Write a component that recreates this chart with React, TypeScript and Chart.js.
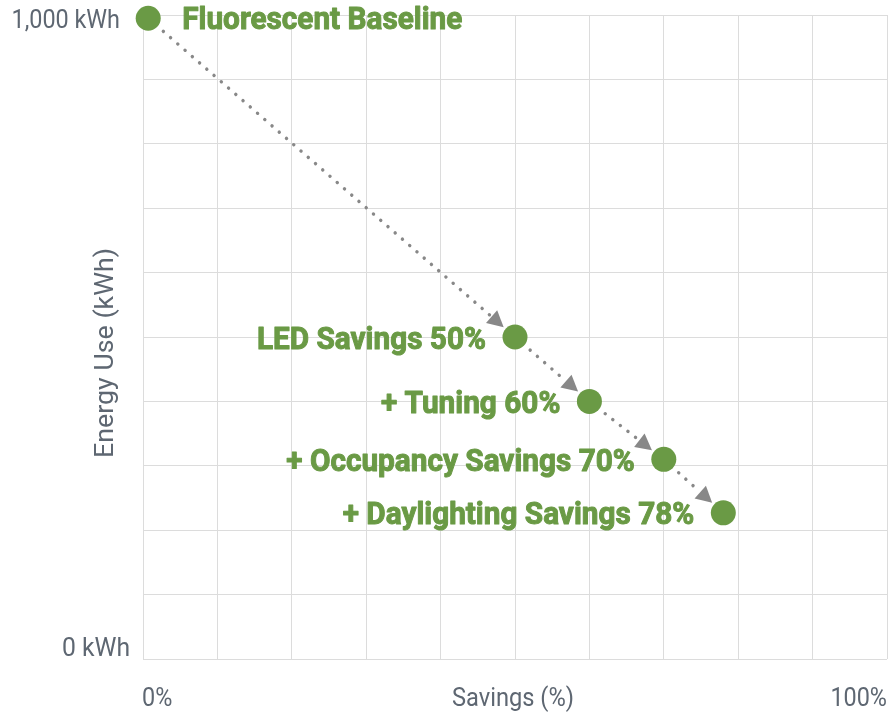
import React, { useEffect, useRef } from "react";
import { Chart, registerables } from "chart.js";

Chart.register(...registerables);

// ---- data ----
const stepLabels = [
  "Fluorescent Baseline",
  "LED Savings 50%",
  "+ Tuning 60%",
  "+ Occupancy Savings 70%",
  "+ Daylighting Savings 78%",
];
const savingsPct = [0.7, 50, 60, 70, 78];
const energyKWh = [995, 500, 400, 310, 227];

const yTickValues = [1000, 0];
const yTickLabels = ["1,000 kWh", "0 kWh"];
const xTickValues = [0, 100];
const xTickLabels = ["0%", "100%"];
const xTitle = "Savings (%)";
const yTitle = "Energy Use (kWh)";

// ---- styles ----
const GREEN = "#6a9a45";
const GRAY_TEXT = "#5e6772";
const GRID = "#dcdcdc";
const ARROW = "#888888";

function drawText(
  ctx: CanvasRenderingContext2D,
  text: string,
  x: number,
  y: number,
  font: string,
  color: string,
  align: CanvasTextAlign,
  scaleX = 1,
  stroke = 0
) {
  ctx.save();
  ctx.font = font;
  ctx.fillStyle = color;
  ctx.textBaseline = "alphabetic";
  const w = ctx.measureText(text).width * scaleX;
  let left = x;
  if (align === "right") left = x - w;
  else if (align === "center") left = x - w / 2;
  ctx.translate(left, y);
  ctx.scale(scaleX, 1);
  ctx.textAlign = "left";
  ctx.fillText(text, 0, 0);
  if (stroke > 0) {
    ctx.strokeStyle = color;
    ctx.lineWidth = stroke;
    ctx.lineJoin = "round";
    ctx.strokeText(text, 0, 0);
  }
  ctx.restore();
}

const arrowPlugin = {
  id: "arrows",
  beforeDatasetsDraw(chart: any) {
    const ctx: CanvasRenderingContext2D = chart.ctx;
    const pts = chart.getDatasetMeta(0).data;
    for (let i = 0; i < pts.length - 1; i++) {
      const a = pts[i];
      const b = pts[i + 1];
      const dx = b.x - a.x;
      const dy = b.y - a.y;
      const len = Math.hypot(dx, dy);
      const ux = dx / len;
      const uy = dy / len;
      const tipX = b.x - ux * 15;
      const tipY = b.y - uy * 15;
      const headLen = 16;
      const baseX = tipX - ux * headLen;
      const baseY = tipY - uy * headLen;
      const startX = a.x + ux * 20;
      const startY = a.y + uy * 20;
      ctx.save();
      ctx.strokeStyle = ARROW;
      ctx.lineWidth = 3.4;
      ctx.lineCap = "round";
      ctx.setLineDash([0.1, 9.5]);
      ctx.beginPath();
      ctx.moveTo(startX, startY);
      ctx.lineTo(baseX - ux * 2, baseY - uy * 2);
      ctx.stroke();
      ctx.setLineDash([]);
      ctx.fillStyle = ARROW;
      const hw = 8.5;
      ctx.beginPath();
      ctx.moveTo(tipX, tipY);
      ctx.lineTo(baseX - uy * hw, baseY + ux * hw);
      ctx.lineTo(baseX + uy * hw, baseY - ux * hw);
      ctx.closePath();
      ctx.fill();
      ctx.restore();
    }
  },
};

const labelPlugin = {
  id: "stepLabels",
  afterDatasetsDraw(chart: any) {
    const ctx: CanvasRenderingContext2D = chart.ctx;
    const pts = chart.getDatasetMeta(0).data;
    const font = "bold 31px Roboto";
    pts.forEach((p: any, i: number) => {
      if (i === 0) {
        drawText(ctx, stepLabels[i], p.x + 34, p.y + 10.5, font, GREEN, "left", 0.96, 1);
      } else {
        drawText(ctx, stepLabels[i], p.x - 29, p.y + 11.5, font, GREEN, "right", 0.96, 1);
      }
    });
  },
};

const axisTextPlugin = {
  id: "axisText",
  afterDraw(chart: any) {
    const ctx: CanvasRenderingContext2D = chart.ctx;
    const xs = chart.scales.x;
    const ys = chart.scales.y;
    const ca = chart.chartArea;
    const tickFont = "26px Roboto";
    // y tick labels
    yTickValues.forEach((v, i) => {
      const py = ys.getPixelForValue(v);
      const by = i === 0 ? py + 12.7 : py - 2.7;
      const rx = i === 0 ? ca.left - 23 : ca.left - 13;
      drawText(ctx, yTickLabels[i], rx, by, tickFont, GRAY_TEXT, "right", i === 0 ? 0.9 : 0.95);
    });
    // x tick labels
    xTickValues.forEach((v, i) => {
      const px = xs.getPixelForValue(v);
      const align: CanvasTextAlign = i === 0 ? "left" : "right";
      drawText(ctx, xTickLabels[i], i === 0 ? px - 1 : px, 705.5, tickFont, GRAY_TEXT, align, 0.9);
    });
    // x title
    drawText(ctx, xTitle, (ca.left + ca.right) / 2 - 2, 705.5, tickFont, GRAY_TEXT, "center", 0.91);
    // y title
    ctx.save();
    ctx.translate(ca.left - 30, (ca.top + ca.bottom) / 2 + 16);
    ctx.rotate(-Math.PI / 2);
    drawText(ctx, yTitle, 0, 0, "26px Roboto", GRAY_TEXT, "center", 1.03);
    ctx.restore();
  },
};

export default function App() {
  const canvasRef = useRef<HTMLCanvasElement | null>(null);

  useEffect(() => {
    if (!canvasRef.current) return;
    const chart = new Chart(canvasRef.current, {
      type: "scatter",
      data: {
        datasets: [
          {
            data: savingsPct.map((x, i) => ({ x, y: energyKWh[i] })),
            backgroundColor: GREEN,
            borderWidth: 0,
            pointRadius: 12.5,
            pointHoverRadius: 12.5,
            clip: false,
          },
        ],
      },
      options: {
        responsive: false,
        animation: false,
        events: [],
        layout: { autoPadding: false, padding: { left: 143, top: 15, right: 4, bottom: 54 } },
        plugins: {
          legend: { display: false },
          tooltip: { enabled: false },
        },
        scales: {
          x: {
            type: "linear",
            min: 0,
            max: 100,
            ticks: { display: false, stepSize: 10 },
            grid: { color: GRID, lineWidth: 1, drawTicks: false },
            border: { display: false },
          },
          y: {
            type: "linear",
            min: 0,
            max: 1000,
            ticks: { display: false, stepSize: 100 },
            grid: { color: GRID, lineWidth: 1, drawTicks: false },
            border: { display: false },
          },
        },
      },
      plugins: [arrowPlugin, labelPlugin, axisTextPlugin],
    });
    return () => chart.destroy();
  }, []);

  return (
    <div style={{ position: "fixed", left: 0, top: 0, width: 891, height: 713, background: "#fff" }}>
      <canvas ref={canvasRef} width={891} height={713} style={{ width: 891, height: 713 }} />
    </div>
  );
}
